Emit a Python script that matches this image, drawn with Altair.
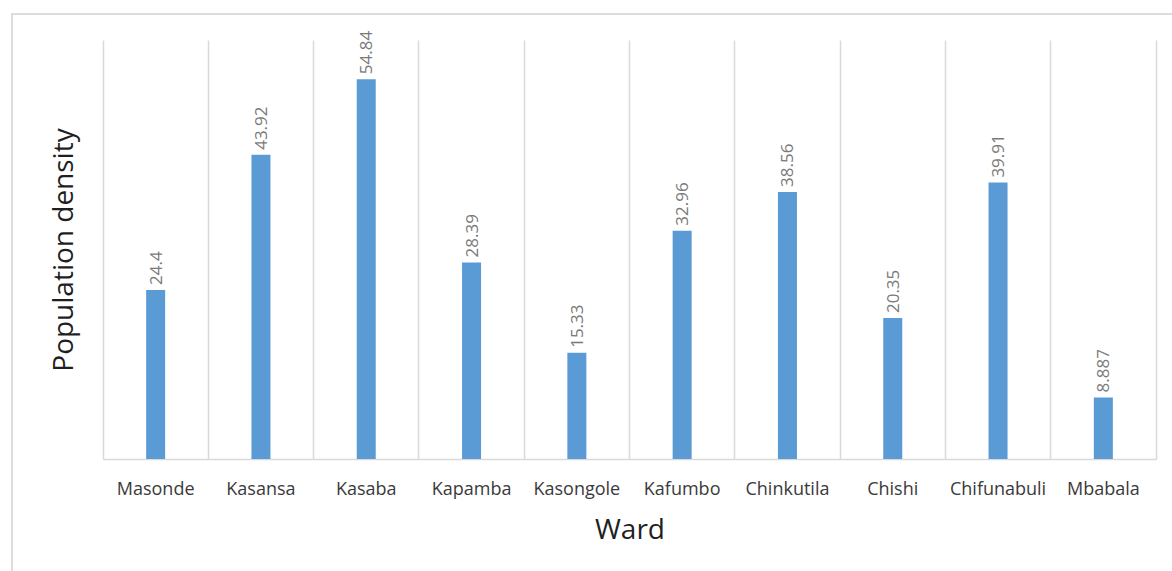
import altair as alt
import pandas as pd

# Population density per ward
wards = ["Masonde", "Kasansa", "Kasaba", "Kapamba", "Kasongole",
         "Kafumbo", "Chinkutila", "Chishi", "Chifunabuli", "Mbabala"]
density = [24.4, 43.92, 54.84, 28.39, 15.33, 32.96, 38.56, 20.35, 39.91, 8.887]
density_text = ["24.4", "43.92", "54.84", "28.39", "15.33",
                "32.96", "38.56", "20.35", "39.91", "8.887"]

df = pd.DataFrame({"Ward": wards, "density": density, "label": density_text})

W, H = 1053, 419
FONT = "Open Sans"
GRID = "#d9d9d9"

x_enc = alt.X(
    "Ward:N",
    sort=wards,
    scale=alt.Scale(paddingInner=0, paddingOuter=0),
    axis=alt.Axis(
        title="Ward",
        labelAngle=0,
        labelFont=FONT,
        labelFontSize=18,
        labelColor="#3a3a3a",
        labelBaseline="alphabetic",
        labelPadding=35,
        ticks=False,
        tickSize=0,
        domain=True,
        domainColor=GRID,
        domainWidth=1.5,
        grid=True,
        gridColor=GRID,
        gridWidth=1.5,
        bandPosition=1,
        titleFont=FONT,
        titleFontSize=28,
        titleFontWeight="normal",
        titleColor="#1f1f1f",
        titleBaseline="alphabetic",
        titleY=79,
    ),
)

y_enc = alt.Y(
    "density:Q",
    scale=alt.Scale(domain=[0, 60.5], nice=False, zero=True),
    axis=alt.Axis(
        title="Population density",
        labels=False,
        ticks=False,
        tickSize=0,
        grid=False,
        domain=True,
        domainColor=GRID,
        domainWidth=1.5,
        titleFont=FONT,
        titleFontSize=28,
        titleFontWeight="normal",
        titleColor="#1f1f1f",
        titleBaseline="alphabetic",
        titleX=-31,
    ),
)

# light outer frame of the chart area
frame = alt.Chart(pd.DataFrame({"k": [0]})).mark_rect(
    fillOpacity=0, stroke="#dcdcdc", strokeWidth=2
).encode(
    x=alt.value(-91), x2=alt.value(W + 200),
    y=alt.value(-26), y2=alt.value(H + 300),
)

bars = alt.Chart(df).mark_bar(size=19, color="#5B9BD5").encode(x=x_enc, y=y_enc)

labels = alt.Chart(df).mark_text(
    angle=270, align="left", baseline="middle", dx=5, dy=1,
    font=FONT, fontSize=17, color="#7a7a7a",
).encode(
    x=alt.X("Ward:N", sort=wards),
    y=alt.Y("density:Q"),
    text="label:N",
)

chart = alt.layer(frame, bars, labels).properties(
    width=W,
    height=H,
    autosize=alt.AutoSizeParams(type="none"),
    padding={"left": 103, "top": 40, "right": 16, "bottom": 112},
    background="white",
).configure_view(stroke=None)

chart.save("out.html", embed_options={"renderer": "svg", "actions": False})
